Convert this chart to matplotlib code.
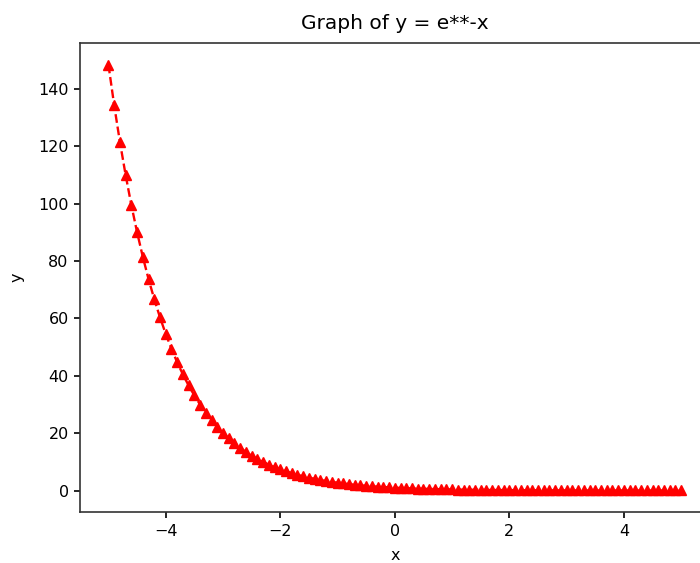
import matplotlib
matplotlib.use("Agg")
import matplotlib.pyplot as plt

x_values = [-5.0, -4.9, -4.8, -4.7, -4.6, -4.5, -4.4, -4.3, -4.2, -4.1,
            -4.0, -3.9, -3.8, -3.7, -3.6, -3.5, -3.4, -3.3, -3.2, -3.1,
            -3.0, -2.9, -2.8, -2.7, -2.6, -2.5, -2.4, -2.3, -2.2, -2.1,
            -2.0, -1.9, -1.8, -1.7, -1.6, -1.5, -1.4, -1.3, -1.2, -1.1,
            -1.0, -0.9, -0.8, -0.7, -0.6, -0.5, -0.4, -0.3, -0.2, -0.1,
            0.0, 0.1, 0.2, 0.3, 0.4, 0.5, 0.6, 0.7, 0.8, 0.9,
            1.0, 1.1, 1.2, 1.3, 1.4, 1.5, 1.6, 1.7, 1.8, 1.9,
            2.0, 2.1, 2.2, 2.3, 2.4, 2.5, 2.6, 2.7, 2.8, 2.9,
            3.0, 3.1, 3.2, 3.3, 3.4, 3.5, 3.6, 3.7, 3.8, 3.9,
            4.0, 4.1, 4.2, 4.3, 4.4, 4.5, 4.6, 4.7, 4.8, 4.9, 5.0]

y_values = [148.41, 134.29, 121.51, 109.95, 99.48, 90.02, 81.45, 73.70, 66.69, 60.34,
            54.60, 49.40, 44.70, 40.45, 36.60, 33.12, 29.96, 27.11, 24.53, 22.20,
            20.09, 18.17, 16.44, 14.88, 13.46, 12.18, 11.02, 9.97, 9.03, 8.17,
            7.39, 6.69, 6.05, 5.47, 4.95, 4.48, 4.06, 3.67, 3.32, 3.00,
            2.72, 2.46, 2.23, 2.01, 1.82, 1.65, 1.49, 1.35, 1.22, 1.11,
            1.00, 0.90, 0.82, 0.74, 0.67, 0.61, 0.55, 0.50, 0.45, 0.41,
            0.37, 0.33, 0.30, 0.27, 0.25, 0.22, 0.20, 0.18, 0.17, 0.15,
            0.14, 0.12, 0.11, 0.10, 0.09, 0.08, 0.07, 0.07, 0.06, 0.06,
            0.05, 0.05, 0.04, 0.04, 0.03, 0.03, 0.03, 0.02, 0.02, 0.02,
            0.02, 0.02, 0.02, 0.01, 0.01, 0.01, 0.01, 0.01, 0.01, 0.01, 0.01]

title_text = "Graph of y = e**-x"
x_label = "x"
y_label = "y"

fig = plt.figure(figsize=(7.0, 5.63), dpi=100)
ax = fig.add_axes([0.114, 0.091, 0.9, 0.832])
ax.plot(x_values, y_values, "r--^", markersize=7, linewidth=1.7)
ax.set_title(title_text, fontsize=14.5, pad=10)
ax.set_xlabel(x_label, fontsize=11.5, labelpad=6)
ax.set_ylabel(y_label, fontsize=11.5, labelpad=10)
ax.tick_params(labelsize=11.5, width=1.2, length=4)
ax.tick_params(axis="x", pad=5)
ax.tick_params(axis="y", pad=4)
for s in ax.spines.values():
    s.set_linewidth(1.2)
    s.set_color("#333333")
fig.savefig("out.png", dpi=100)
